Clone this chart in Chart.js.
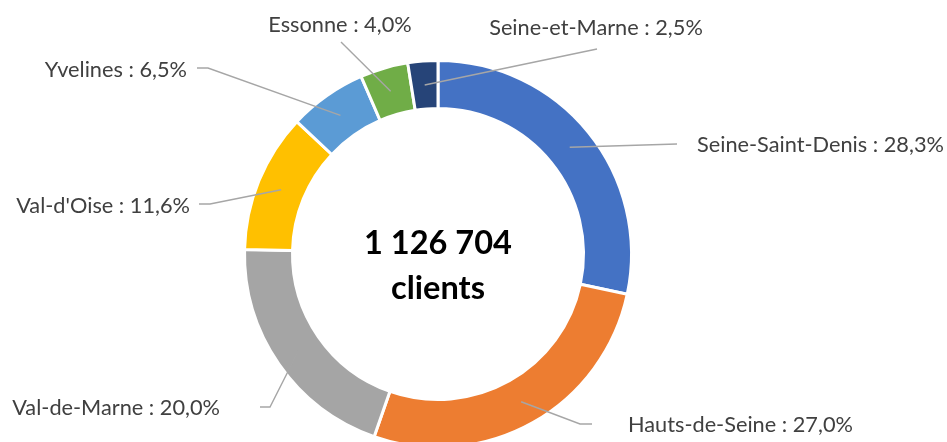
<!DOCTYPE html>
<html>
<head>
<meta charset="utf-8">
<script src="https://cdn.jsdelivr.net/npm/chart.js@4/dist/chart.umd.min.js"></script>
<style>
  html, body { margin: 0; padding: 0; background: #fff; overflow: hidden; }
  #wrap { position: relative; width: 947px; height: 446px; }
</style>
</head>
<body>
<div id="wrap"><canvas id="c"></canvas></div>
<script>
// ---- data ----
const categories = ['Seine-Saint-Denis', 'Hauts-de-Seine', 'Val-de-Marne', "Val-d'Oise", 'Yvelines', 'Essonne', 'Seine-et-Marne'];
const shares = [28.3, 27.0, 20.0, 11.6, 6.5, 4.0, 2.5];
const totalClients = 1126704;
const centerUnit = 'clients';

// ---- styling / layout (not data) ----
const colors = ['#4472C4', '#ED7D31', '#A5A5A5', '#FFC000', '#5B9BD5', '#70AD47', '#264478'];
const FONT = 'Lato, "Open Sans", sans-serif';
// callout placement: text anchor + leader line path (from the arc midpoint)
const callouts = [
  { tx: 697, ty: 145, align: 'left',   path: [[677, 144]] },
  { tx: 628, ty: 425, align: 'left',   path: [[580, 424], [592, 424]] },
  { tx: 220, ty: 408, align: 'right',  path: [[270, 407], [260, 407]] },
  { tx: 190, ty: 206, align: 'right',  path: [[210, 204], [199, 204]] },
  { tx: 187, ty: 70,  align: 'right',  path: [[208, 68], [197, 68]] },
  { tx: 340, ty: 25,  align: 'center', path: [[341, 42]] },
  { tx: 596, ty: 28,  align: 'center', path: [[597, 49]] }
];

function fmtPct(v) { return v.toFixed(1).replace('.', ',') + '%'; }
function fmtInt(n) { return String(n).replace(/\B(?=(\d{3})+(?!\d))/g, ' '); }
function fitSize(ctx, text, weight, target) {
  ctx.font = weight + ' 100px ' + FONT;
  return 100 * target / ctx.measureText(text).width;
}

const calloutPlugin = {
  id: 'callouts',
  afterDatasetsDraw(chart) {
    const ctx = chart.ctx;
    const meta = chart.getDatasetMeta(0);
    ctx.save();
    // leader lines
    ctx.strokeStyle = '#A6A6A6';
    ctx.lineWidth = 1.4;
    meta.data.forEach((arc, i) => {
      const p = arc.tooltipPosition();
      const c = callouts[i];
      ctx.beginPath();
      ctx.moveTo(p.x, p.y);
      c.path.forEach(pt => ctx.lineTo(pt[0], pt[1]));
      ctx.stroke();
    });
    // labels
    const labelSize = fitSize(ctx, categories[0] + ' : ' + fmtPct(shares[0]), 'normal', 247);
    ctx.font = 'normal ' + labelSize.toFixed(2) + 'px ' + FONT;
    ctx.fillStyle = '#404040';
    ctx.textBaseline = 'middle';
    meta.data.forEach((arc, i) => {
      const c = callouts[i];
      ctx.textAlign = c.align;
      ctx.fillText(categories[i] + ' : ' + fmtPct(shares[i]), c.tx, c.ty);
    });
    // center text
    const cx = meta.data[0].x, cy = meta.data[0].y;
    const line1 = fmtInt(totalClients);
    const bigSize = fitSize(ctx, line1, 'bold', 148);
    ctx.font = 'bold ' + bigSize.toFixed(2) + 'px ' + FONT;
    ctx.fillStyle = '#000';
    ctx.textAlign = 'center';
    ctx.fillText(line1, cx, cy - 11);
    ctx.fillText(centerUnit, cx, cy + 34);
    ctx.restore();
  }
};

new Chart(document.getElementById('c'), {
  type: 'doughnut',
  data: {
    labels: categories,
    datasets: [{
      data: shares,
      backgroundColor: colors,
      borderColor: '#ffffff',
      borderWidth: 3,
      hoverOffset: 0
    }]
  },
  options: {
    responsive: true,
    maintainAspectRatio: false,
    animation: false,
    radius: 193.5,
    cutout: '75.2%',
    layout: { padding: { top: 62, bottom: 0, left: 0, right: 71 } },
    plugins: {
      legend: { display: false },
      tooltip: { enabled: false },
      title: { display: false }
    }
  },
  plugins: [calloutPlugin]
});
</script>
</body>
</html>
